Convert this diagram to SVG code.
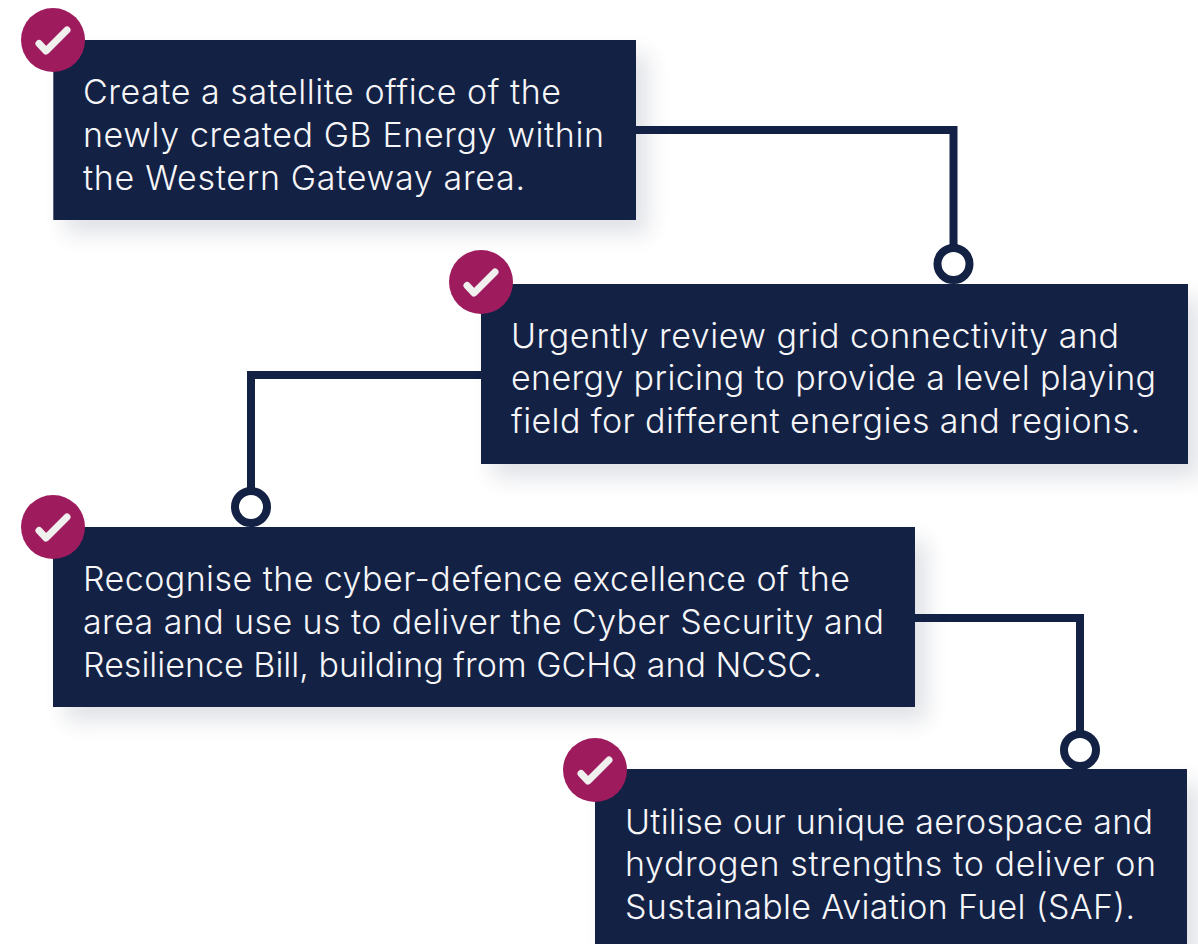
<svg xmlns="http://www.w3.org/2000/svg" width="1198" height="944" viewBox="0 0 1198 944">
<defs>
<filter id="sh" x="-15%" y="-30%" width="130%" height="170%"><feGaussianBlur stdDeviation="11"/></filter>
</defs>
<style>
.box{fill:#132145}
.shadow{fill:#132145;opacity:.13;filter:url(#sh)}
.t{font-family:"Inter","Noto Sans",sans-serif;font-size:34px;font-weight:350;fill:#f6f6f8}
.c{fill:none;stroke:#132145;stroke-width:8}
.o{fill:#fff;stroke:#132145;stroke-width:8}
.b{fill:#9e1c5e}
.k{fill:none;stroke:#f0f0ee;stroke-width:7;stroke-linecap:round;stroke-linejoin:round}
</style>
<rect width="1198" height="944" fill="#fff"/>
<g id="connectors">
<path class="c" d="M636 130H953.500V250"/>
<path class="c" d="M481 375H251V495"/>
<path class="c" d="M915 618H1080V735"/>
</g>
<g id="node1">
<rect class="shadow" x="65" y="54" width="583" height="180"/>
<rect class="box" x="53.300" y="40" width="582.700" height="180"/>
<circle class="b" cx="53" cy="40" r="32"/><path class="k" d="M39 43.500l7 7.500 21-21"/>
<text class="t" x="83" y="104" textLength="478">Create a satellite office of the</text>
<text class="t" x="83" y="147" textLength="521">newly created GB Energy within</text>
<text class="t" x="83" y="190" textLength="442">the Western Gateway area.</text>
</g>
<g id="node2">
<rect class="shadow" x="493" y="298" width="707" height="180"/>
<rect class="box" x="481" y="284" width="707" height="180"/>
<circle class="b" cx="481" cy="282" r="32"/><path class="k" d="M467 285.500l7 7.500 21-21"/>
<circle class="o" cx="953.500" cy="264" r="16"/>
<text class="t" x="511" y="348" textLength="608">Urgently review grid connectivity and</text>
<text class="t" x="511" y="390" textLength="645">energy pricing to provide a level playing</text>
<text class="t" x="511" y="433" textLength="629">field for different energies and regions.</text>
</g>
<g id="node3">
<rect class="shadow" x="65" y="541" width="862" height="180"/>
<rect class="box" x="53" y="527" width="862" height="180"/>
<circle class="b" cx="53" cy="527" r="32"/><path class="k" d="M39 530.500l7 7.500 21-21"/>
<circle class="o" cx="251" cy="507" r="16"/>
<text class="t" x="83" y="591" textLength="767">Recognise the cyber-defence excellence of the</text>
<text class="t" x="83" y="634" textLength="801">area and use us to deliver the Cyber Security and</text>
<text class="t" x="83" y="677" textLength="739">Resilience Bill, building from GCHQ and NCSC.</text>
</g>
<g id="node4">
<rect class="shadow" x="607" y="783" width="592" height="180"/>
<rect class="box" x="595" y="769" width="592" height="175"/>
<circle class="b" cx="595" cy="770" r="32"/><path class="k" d="M581 773.500l7 7.500 21-21"/>
<circle class="o" cx="1080" cy="750" r="16"/>
<text class="t" x="625" y="834" textLength="528">Utilise our unique aerospace and</text>
<text class="t" x="625" y="876" textLength="531">hydrogen strengths to deliver on</text>
<text class="t" x="625" y="919" textLength="510">Sustainable Aviation Fuel (SAF).</text>
</g>
</svg>
